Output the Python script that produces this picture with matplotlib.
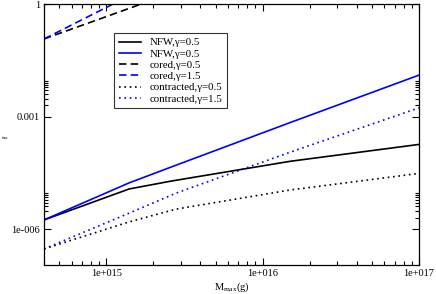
import numpy as np
import matplotlib
matplotlib.use('Agg')
import matplotlib.pyplot as plt
from matplotlib.ticker import FixedLocator, FixedFormatter, NullFormatter

plt.rcParams['font.family'] = ['Liberation Serif', 'DejaVu Serif']
plt.rcParams['mathtext.fontset'] = 'custom'
plt.rcParams['mathtext.rm'] = 'Liberation Serif'
plt.rcParams['mathtext.it'] = 'Liberation Serif'

# data (M in g, f)
m_nfw = [4.0e14, 1.4e15, 2.6e15, 1.5e16, 1.1e17]
f_nfw_black = [1.75e-6, 1.17e-5, 1.9e-5, 6.4e-5, 1.9e-4]
f_nfw_blue = [1.75e-6, 1.7e-5, 4.5e-5, 6.9e-4, 1.47e-2]

m_contr = [4.0e14, 1.4e15, 2.8e15, 1.5e16, 1.1e17]
f_contr_black = [2.95e-7, 1.55e-6, 3.4e-6, 1.1e-5, 3.2e-5]
f_contr_blue = [2.95e-7, 2.65e-6, 9.1e-6, 1.12e-4, 1.95e-3]

m_cored_black = [4.0e14, 2.0e15]
f_cored_black = [0.117, 1.3]
m_cored_blue = [4.0e14, 1.5e15]
f_cored_blue = [0.117, 1.9]

labels = ['NFW,\u03b3=0.5', 'NFW,\u03b3=0.5', 'cored,\u03b3=0.5', 'cored,\u03b3=1.5',
          'contracted,\u03b3=0.5', 'contracted,\u03b3=1.5']

x_major = [1e15, 1e16, 1e17]
x_major_labels = ['1e+015', '1e+016', '1e+017']
y_major = [1e-6, 1e-3, 1.0]
y_major_labels = ['1e-006', '0.001', '1']

fig = plt.figure(figsize=(4.36, 2.94), dpi=100)
ax = fig.add_axes([44/436, 1 - 265/294, 375/436, 261/294])

lw = 1.2
dash = (0, (4.5, 2.5))
dot = (0, (1, 2.2))
ax.plot(m_nfw, f_nfw_black, color='black', lw=lw, label=labels[0])
ax.plot(m_nfw, f_nfw_blue, color='#0000ff', lw=lw, label=labels[1])
ax.plot(m_cored_black, f_cored_black, color='black', lw=lw, ls=dash, label=labels[2])
ax.plot(m_cored_blue, f_cored_blue, color='#0000ff', lw=lw, ls=dash, label=labels[3])
ax.plot(m_contr, f_contr_black, color='black', lw=lw, ls=dot, label=labels[4])
ax.plot(m_contr, f_contr_blue, color='#0000ff', lw=lw, ls=dot, label=labels[5])

ax.set_xscale('log')
ax.set_yscale('log')
ax.set_xlim(4e14, 1e17)
ax.set_ylim(1.1e-7, 1.0)

ax.xaxis.set_major_locator(FixedLocator(x_major))
ax.xaxis.set_major_formatter(FixedFormatter(x_major_labels))
xminor = [k * 10.0**e for e in (14, 15, 16) for k in range(2, 10)]
ax.xaxis.set_minor_locator(FixedLocator(xminor))
ax.xaxis.set_minor_formatter(NullFormatter())

ax.yaxis.set_major_locator(FixedLocator(y_major))
ax.yaxis.set_major_formatter(FixedFormatter(y_major_labels))
yminor = [k * 10.0**e for e in (-6, -3) for k in range(2, 10)]
ax.yaxis.set_minor_locator(FixedLocator(yminor))
ax.yaxis.set_minor_formatter(NullFormatter())

ax.tick_params(which='both', direction='in', top=True, right=True,
               labelsize=7.5, width=0.8, pad=3)
ax.tick_params(which='major', length=5)
ax.tick_params(which='minor', length=3)
for s in ax.spines.values():
    s.set_linewidth(0.9)

ax.set_xlabel('M$_{\\rm max}$(g)', fontsize=7.5, labelpad=2)
fig.text(5/436, 1 - 138/294, 'f$_{\\rm max}$', fontsize=3, ha='center', va='center')

leg = ax.legend(loc='upper left', bbox_to_anchor=((114 - 44)/375, (265 - 33)/261),
                fontsize=7.8, frameon=True, fancybox=False, edgecolor='black',
                handlelength=2.0, handletextpad=0.8, borderpad=0.45,
                labelspacing=0.15, borderaxespad=0)
leg.get_frame().set_linewidth(0.8)

fig.savefig('out.png', dpi=100)
